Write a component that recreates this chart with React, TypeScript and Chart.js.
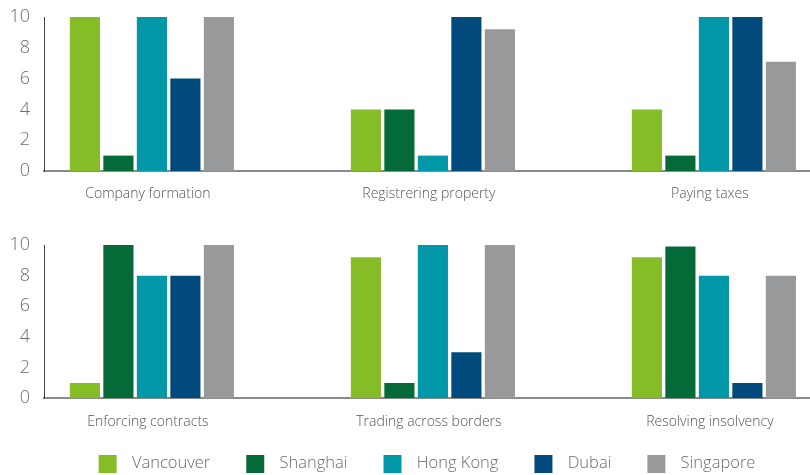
import React, { useEffect, useRef } from "react";
import { Chart, registerables } from "chart.js";

Chart.register(...registerables);

// ---- Data ----
const seriesNames = ["Vancouver", "Shanghai", "Hong Kong", "Dubai", "Singapore"];
const seriesColors = ["#86BC25", "#046A38", "#0097A9", "#004B7C", "#97999B"];

const topCategories = ["Company formation", "Registrering property", "Paying taxes"];
const bottomCategories = ["Enforcing contracts", "Trading across borders", "Resolving insolvency"];

const vancouverTop = [10, 4, 4];
const shanghaiTop = [1, 4, 1];
const hongKongTop = [10, 1, 10];
const dubaiTop = [6, 10, 10];
const singaporeTop = [10, 9.2, 7.1];

const vancouverBottom = [1, 9.2, 9.2];
const shanghaiBottom = [10, 1, 9.9];
const hongKongBottom = [8, 10, 8];
const dubaiBottom = [8, 3, 1];
const singaporeBottom = [10, 10, 8];

const yTicks = [0, 2, 4, 6, 8, 10];

// ---- Layout / style ----
const FONT = "'Open Sans', 'Noto Sans', sans-serif";
const X_MIN = -0.384;
const X_MAX = 2.342;
const LEGEND_FONT = 16.5;
const SWATCH = 18;
const SWATCH_TEXT_GAP = 15;
const ITEM_GAP = 36;
const SWATCH_SLOT = Math.round(ITEM_GAP + SWATCH + SWATCH_TEXT_GAP - LEGEND_FONT / 2);

function makeSwatch(color: string): HTMLCanvasElement {
  const c = document.createElement("canvas");
  c.width = SWATCH_SLOT;
  c.height = SWATCH;
  const ctx = c.getContext("2d")!;
  ctx.fillStyle = color;
  ctx.fillRect(ITEM_GAP, 0, SWATCH, SWATCH);
  return c;
}

type PanelProps = {
  categories: string[];
  series: number[][];
  height: number;
  padding: { top: number; left: number; right: number; bottom: number };
  showLegend: boolean;
};

function Panel({ categories, series, height, padding, showLegend }: PanelProps) {
  const ref = useRef<HTMLCanvasElement | null>(null);

  useEffect(() => {
    if (!ref.current) return;
    const swatches = seriesColors.map(makeSwatch);
    const chart = new Chart(ref.current, {
      type: "bar",
      data: {
        datasets: series.map((vals, i) => ({
          label: seriesNames[i],
          data: vals.map((v, j) => ({ x: j, y: v })),
          backgroundColor: seriesColors[i],
          borderWidth: 0,
          categoryPercentage: 0.596,
          barPercentage: 0.9,
        })),
      },
      options: {
        animation: false,
        responsive: true,
        maintainAspectRatio: false,
        events: [],
        layout: { padding },
        plugins: {
          tooltip: { enabled: false },
          legend: {
            display: showLegend,
            position: "bottom",
            title: {
              display: true,
              text: " ",
              padding: 0,
              font: { size: 10, lineHeight: 2.345 },
            },
            labels: {
              usePointStyle: true,
              pointStyleWidth: SWATCH_SLOT,
              boxHeight: LEGEND_FONT,
              padding: 0,
              color: "#6b6b6b",
              font: { family: FONT, size: LEGEND_FONT, weight: "300" as any },
              generateLabels: (ch: any) =>
                Chart.defaults.plugins.legend.labels
                  .generateLabels(ch)
                  .map((it: any) => ({ ...it, pointStyle: swatches[it.datasetIndex] })),
            },
          },
        },
        scales: {
          x: {
            type: "linear",
            min: X_MIN,
            max: X_MAX,
            offset: false,
            grid: { display: false, drawTicks: true, tickLength: 13 },
            border: { display: true, color: "#8a8a8a", width: 2 },
            ticks: {
              stepSize: 1,
              includeBounds: false,
              autoSkip: false,
              maxRotation: 0,
              padding: 2,
              labelOffset: -4,
              color: "#555",
              font: { family: FONT, size: 14, weight: "300" as any, lineHeight: 1.2 },
              callback: (v: any) => categories[v] ?? "",
            },
          },
          y: {
            min: yTicks[0],
            max: yTicks[yTicks.length - 1],
            grid: { display: false, drawTicks: false },
            border: { display: true, color: "#444", width: 1 },
            afterBuildTicks: (s: any) => {
              s.ticks = yTicks.map((v) => ({ value: v }));
            },
            afterFit: (s: any) => {
              s.width = 36;
              s.paddingTop = 0;
              s.paddingBottom = 0;
            },
            ticks: {
              padding: 14,
              color: "#6d6d6d",
              font: { family: FONT, size: 18, weight: "300" as any },
            },
          },
        },
      } as any,
    });
    return () => chart.destroy();
  }, [categories, series, height, padding, showLegend]);

  return (
    <div style={{ position: "relative", width: 810, height }}>
      <canvas ref={ref} />
    </div>
  );
}

const topSeries = [vancouverTop, shanghaiTop, hongKongTop, dubaiTop, singaporeTop];
const bottomSeries = [vancouverBottom, shanghaiBottom, hongKongBottom, dubaiBottom, singaporeBottom];
const topPadding = { top: 17, left: 8, right: 0, bottom: 10.2 };
const bottomPadding = { top: 30, left: 8, right: 0, bottom: 0 };

export default function App() {
  return (
    <div
      style={{
        position: "absolute",
        left: 0,
        top: 0,
        width: 810,
        height: 475,
        overflow: "hidden",
        background: "#fff",
      }}
    >
      <Panel categories={topCategories} series={topSeries} height={215} padding={topPadding} showLegend={false} />
      <Panel categories={bottomCategories} series={bottomSeries} height={267} padding={bottomPadding} showLegend={true} />
    </div>
  );
}
